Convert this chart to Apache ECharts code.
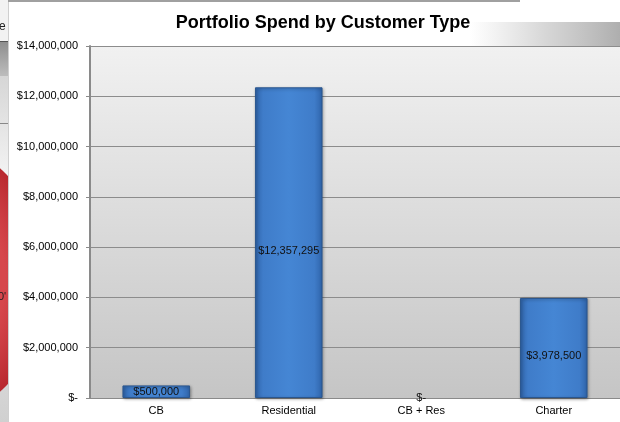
<!DOCTYPE html>
<html>
<head>
<meta charset="utf-8">
<script src="https://cdn.jsdelivr.net/npm/echarts@6/dist/echarts.min.js"></script>
<style>
  html, body { margin: 0; padding: 0; background: #fff; }
  #spend { width: 620px; height: 422px; }
</style>
</head>
<body>
<div id="spend"></div>
<script>
var customerTypes = ['CB', 'Residential', 'CB + Res', 'Charter'];
var spendValues = [500000, 12357295, 0, 3978500];
var yTicks = { min: 0, max: 14000000, interval: 2000000 };

function money(v) {
	if (v === 0) return '$-';
	return '$' + String(Math.round(v)).replace(/\B(?=(\d{3})+(?!\d))/g, ',');
}

function spendchart() {
	var chartEl = document.getElementById('spend');
	var chart = echarts.init(chartEl);
	var font = 'Liberation Sans, Arial, sans-serif';

	// zero bars get no outline, short bars keep their label centred
	var barData = spendValues.map(function (v) {
		var item = { value: v };
		if (v === 0) {
			item.itemStyle = { borderWidth: 0, shadowColor: 'transparent', color: 'transparent' };
		}
		if (v > 2000000) {
			item.label = { offset: [0, 8] };
		}
		return item;
	});

	var option = {
		backgroundColor: '#fff',
		animation: false,
		title: {
			text: 'Portfolio Spend by Customer Type',
			left: 318,
			top: 9,
			textAlign: 'center',
			textStyle: { fontFamily: font, fontSize: 18, fontWeight: 'bold', color: '#000' }
		},
		// bits of other windows peeking in at the edges
		graphic: [
			{ type: 'rect', shape: { x: 0, y: 0, width: 8, height: 41 }, style: { fill: '#f2f2f2' } },
			{ type: 'text', left: -1, top: 21, style: { text: 'e', fontSize: 12, fontFamily: font, fill: '#222' } },
			{ type: 'rect', shape: { x: 0, y: 41, width: 8, height: 1 }, style: { fill: '#555' } },
			{ type: 'rect', shape: { x: 0, y: 42, width: 8, height: 34 },
			  style: { fill: new echarts.graphic.LinearGradient(0, 0, 0, 1, [
				{ offset: 0, color: '#8e8e8e' }, { offset: 1, color: '#bdbdbd' }]) } },
			{ type: 'rect', shape: { x: 0, y: 76, width: 8, height: 346 },
			  style: { fill: new echarts.graphic.LinearGradient(0, 0, 0, 1, [
				{ offset: 0, color: '#d6d6d6' }, { offset: 0.3, color: '#f4f4f4' }, { offset: 1, color: '#d0d0d0' }]) } },
			{ type: 'rect', shape: { x: 0, y: 123, width: 8, height: 1 }, style: { fill: '#888' } },
			{ type: 'circle', shape: { cx: -100, cy: 280, r: 150 },
			  style: { fill: new echarts.graphic.RadialGradient(0.5, 0.5, 0.5, [
				{ offset: 0.7, color: '#d6474c' }, { offset: 1, color: '#b8282e' }]) } },
			{ type: 'text', left: -2, top: 291, style: { text: '0\'', fontSize: 11, fontFamily: font, fill: '#222' } },
			{ type: 'rect', shape: { x: 8, y: 0, width: 81, height: 422 }, style: { fill: '#fff' } },
			{ type: 'rect', shape: { x: 8, y: 0, width: 1, height: 422 }, style: { fill: '#cfcfcf' } },
			{ type: 'rect', shape: { x: 8, y: 0, width: 512, height: 2 }, style: { fill: '#a0a0a0' } },
			{ type: 'rect', shape: { x: 470, y: 22, width: 150, height: 24 },
			  style: { fill: new echarts.graphic.LinearGradient(0, 0, 1, 0, [
				{ offset: 0, color: 'rgba(150,150,150,0)' }, { offset: 0.5, color: 'rgba(140,140,140,0.35)' }, { offset: 1, color: 'rgba(120,120,120,0.6)' }]) } },
			{ type: 'rect', shape: { x: 521, y: 0, width: 99, height: 22 }, style: { fill: '#fff' } }
		],
		grid: {
			top: 46,
			bottom: 24,
			left: 90,
			right: -7,
			show: true,
			borderWidth: 0,
			backgroundColor: new echarts.graphic.LinearGradient(0, 0, 0, 1, [
				{ offset: 0, color: '#f1f1f1' }, { offset: 1, color: '#c5c5c5' }])
		},
		xAxis: {
			type: 'category',
			data: customerTypes,
			axisLine: { lineStyle: { color: '#8a8a8a' } },
			axisTick: { length: 4, lineStyle: { color: '#8a8a8a' } },
			axisLabel: { fontFamily: font, fontSize: 11, color: '#000', margin: 7 }
		},
		yAxis: {
			type: 'value',
			min: yTicks.min,
			max: yTicks.max,
			interval: yTicks.interval,
			axisLine: { show: true, lineStyle: { color: '#8a8a8a', width: 2 } },
			axisTick: { show: true, length: 4, lineStyle: { color: '#8a8a8a' } },
			splitLine: { lineStyle: { color: '#8c8c8c' } },
			axisLabel: { fontFamily: font, fontSize: 11, color: '#000', margin: 12, formatter: money }
		},
		series: [{
			name: 'Spend',
			type: 'bar',
			data: barData,
			barWidth: '51%',
			itemStyle: {
				color: new echarts.graphic.LinearGradient(0, 0, 1, 0, [
					{ offset: 0, color: '#2f64aa' },
					{ offset: 0.12, color: '#3f7cc9' },
					{ offset: 0.5, color: '#4586d4' },
					{ offset: 0.88, color: '#3f7cc9' },
					{ offset: 1, color: '#2f64aa' }]),
				borderColor: '#2a568f',
				borderWidth: 1,
				shadowColor: 'rgba(0,0,0,0.35)',
				shadowBlur: 3,
				shadowOffsetX: 1,
				shadowOffsetY: 1
			},
			label: {
				show: true,
				position: 'inside',
				fontFamily: font,
				fontSize: 11,
				color: '#111',
				formatter: function (p) { return money(p.value); }
			}
		}]
	};

	chart.setOption(option);
	window.addEventListener('resize', function () {
		chart.resize();
	});
}

spendchart();
</script>
</body>
</html>
